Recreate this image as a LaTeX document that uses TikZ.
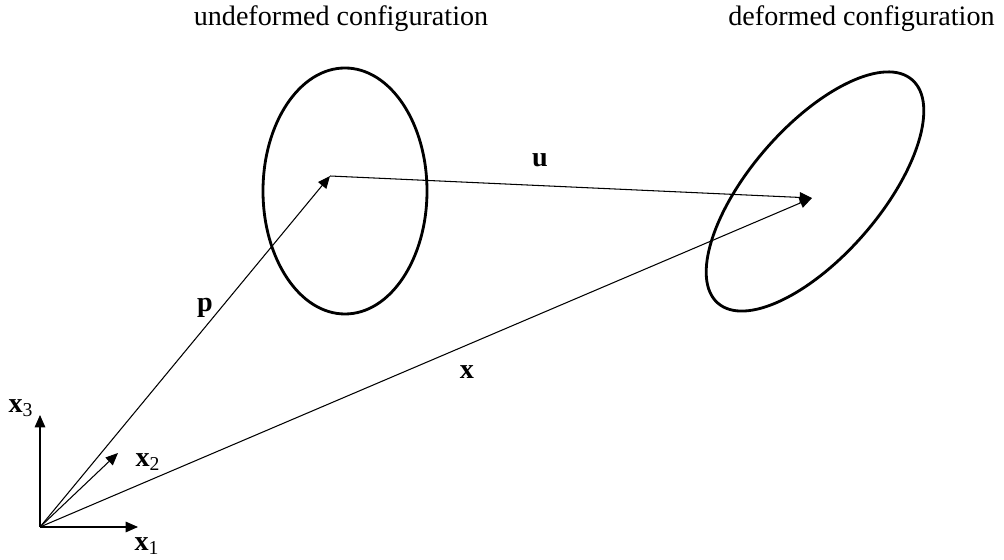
\documentclass[tikz,border=0pt]{standalone}
\usepackage{fontspec}
\setmainfont{Liberation Serif}
\usetikzlibrary{arrows.meta}

\begin{document}
\begin{tikzpicture}[>={Triangle[length=7pt,width=6pt]},
    vec/.style={->, line width=0.6pt},
    body/.style={line width=1.6pt},
    title/.style={font=\fontsize{16}{18}\selectfont},
    lbl/.style={font=\fontsize{16}{18}\selectfont\bfseries, inner sep=1pt}]
  \useasboundingbox (0,0) rectangle (20.08,11.2);
  %% Titles
  \node[title] (tund) at (6.82,10.82) {undeformed configuration};
  \node[title] (tdef) at (17.23,10.82) {deformed configuration};
  %% Bodies
  \coordinate (C0) at (6.9,7.38);
  \coordinate (C1) at (16.3,7.37);
  \draw[body] (C0) ellipse [x radius=1.64, y radius=2.46];
  \draw[body, rotate around={49:(C1)}] (C1) ellipse [x radius=2.96, y radius=1.3];
  %% Reference frame
  \coordinate (O) at (0.8,0.66);
  \coordinate (e1) at (2.76,0.66);
  \coordinate (e2) at (2.36,2.14);
  \coordinate (e3) at (0.8,2.9);
  \draw[vec] (O) -- (e1);
  \draw[vec] (O) -- (e2);
  \draw[vec] (O) -- (e3);
  \node[lbl] (lx1) at (2.94,0.28) {x\textsubscript{\normalfont 1}};
  \node[lbl] (lx2) at (2.96,1.96) {x\textsubscript{\normalfont 2}};
  \node[lbl] (lx3) at (0.42,3.04) {x\textsubscript{\normalfont 3}};
  %% Position vectors
  \coordinate (P) at (6.6,7.68);
  \coordinate (X) at (16.24,7.24);
  \draw[vec] (O) -- (P);
  \draw[vec] (O) -- (X);
  \draw[vec] (P) -- (X);
  \node[lbl] (lp) at (4.1,5.04) {p};
  \node[lbl] (lu) at (10.8,8.0) {u};
  \node[lbl] (lx) at (9.34,3.76) {x};
\end{tikzpicture}
\end{document}
